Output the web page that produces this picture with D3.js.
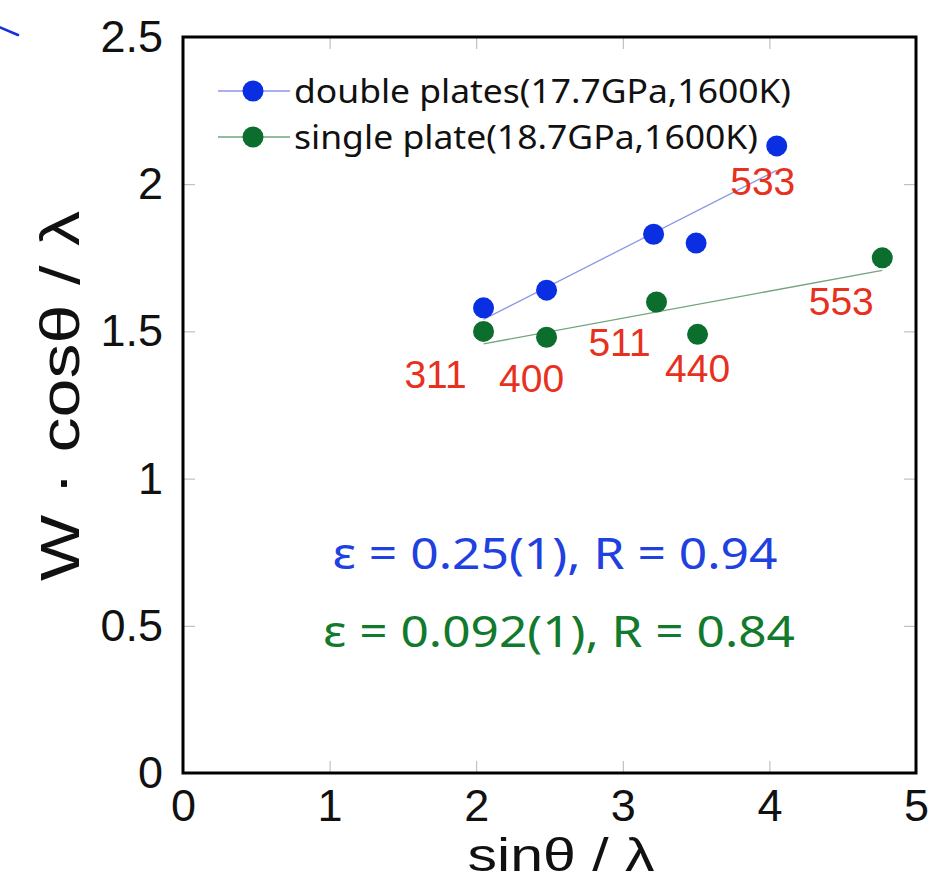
<!DOCTYPE html>
<html><head><meta charset="utf-8">
<script src="https://cdn.jsdelivr.net/npm/d3@7"></script>
<style>body{margin:0;background:#fff} svg{display:block}</style>
</head><body>
<svg id="chart" width="945" height="882"></svg>
<script>
// Williamson–Hall plot: x = sinθ/λ, y = W·cosθ/λ
const doubleX = [2.05, 2.48, 3.21, 3.50, 4.05];
const doubleY = [1.58, 1.64, 1.83, 1.80, 2.13];
const doubleHkl = ["311", "400", "511", "440", "533"];
const singleX = [2.05, 2.48, 3.23, 3.51, 4.77];
const singleY = [1.50, 1.48, 1.60, 1.49, 1.75];
const singleHkl = ["311", "400", "511", "440", "553"];
const seriesNames = ["double plates(17.7GPa,1600K)", "single plate(18.7GPa,1600K)"];
const fitTexts = ["ε = 0.25(1), R = 0.94", "ε = 0.092(1), R = 0.84"];
const xTicks = [0, 1, 2, 3, 4, 5];
const yTicks = [0, 0.5, 1, 1.5, 2, 2.5];

const BLUE = "#0a2fe3", GREEN = "#0b6e2c", RED = "#e8301e";
const BLUE_LINE = "#8f95e6", GREEN_LINE = "#72a47e";

const svg = d3.select("#chart");
const L = 183, R = 916, T = 37, B = 773;
const x = d3.scaleLinear().domain([0, 5]).range([L, R]);
const y = d3.scaleLinear().domain([0, 2.5]).range([B, T]);

const series = [
  { name: seriesNames[0], xs: doubleX, ys: doubleY, hkl: doubleHkl, color: BLUE, line: BLUE_LINE, text: "#2040e0" },
  { name: seriesNames[1], xs: singleX, ys: singleY, hkl: singleHkl, color: GREEN, line: GREEN_LINE, text: "#127a2c" }
];

// stray pen stroke at the upper-left edge
svg.append("line").attr("x1", -1).attr("y1", 27).attr("x2", 18).attr("y2", 35)
  .attr("stroke", "#1a30d8").attr("stroke-width", 2.6).attr("stroke-linecap", "round");

const tickFont = "'Liberation Sans', Arial, sans-serif";

// inward ticks on all four sides
function styleAxis(g) {
  g.select(".domain").remove();
  g.selectAll(".tick line").attr("stroke", "#b4b4b4").attr("stroke-width", 1);
  g.selectAll(".tick text").attr("font-family", tickFont).attr("font-size", 45).attr("fill", "#111");
}
svg.append("g").attr("transform", `translate(0,${B})`)
  .call(d3.axisBottom(x).tickValues(xTicks).tickSize(-12).tickPadding(16).tickFormat(d => String(d)))
  .call(styleAxis);
svg.append("g").attr("transform", `translate(0,${T})`)
  .call(d3.axisTop(x).tickValues(xTicks.slice(1, -1)).tickSize(-12).tickFormat(""))
  .call(styleAxis);
svg.append("g").attr("transform", `translate(${L},0)`)
  .call(d3.axisLeft(y).tickValues(yTicks).tickSize(-12).tickPadding(20).tickFormat(d => String(d)))
  .call(styleAxis);
svg.append("g").attr("transform", `translate(${R},0)`)
  .call(d3.axisRight(y).tickValues(yTicks.slice(1, -1)).tickSize(-12).tickFormat(""))
  .call(styleAxis);

// frame
svg.append("rect").attr("x", L).attr("y", T).attr("width", R - L).attr("height", B - T)
  .attr("fill", "none").attr("stroke", "#000").attr("stroke-width", 3);

// least-squares fit lines
series.forEach(s => {
  const n = s.xs.length;
  const mx = d3.mean(s.xs), my = d3.mean(s.ys);
  let sxy = 0, sxx = 0;
  for (let i = 0; i < n; i++) { sxy += (s.xs[i] - mx) * (s.ys[i] - my); sxx += (s.xs[i] - mx) ** 2; }
  const slope = sxy / sxx, icpt = my - slope * mx;
  const [x0, x1] = d3.extent(s.xs);
  svg.append("line")
    .attr("x1", x(x0)).attr("y1", y(icpt + slope * x0))
    .attr("x2", x(x1)).attr("y2", y(icpt + slope * x1))
    .attr("stroke", s.line).attr("stroke-width", 1.3);
});

// data points
series.forEach(s => {
  svg.append("g").selectAll("circle").data(s.xs.map((v, i) => [v, s.ys[i]])).join("circle")
    .attr("cx", d => x(d[0])).attr("cy", d => y(d[1])).attr("r", 10.5).attr("fill", s.color);
});

// reflection labels (hkl), placed relative to their point
const labelSpec = [
  { s: 1, hkl: "311", dx: -48, dy: 57 },
  { s: 1, hkl: "400", dx: -15, dy: 55 },
  { s: 1, hkl: "511", dx: -37, dy: 54 },
  { s: 1, hkl: "440", dx: 0, dy: 48 },
  { s: 0, hkl: "533", dx: -14, dy: 49 },
  { s: 1, hkl: "553", dx: -41, dy: 57 }
];
labelSpec.forEach(l => {
  const s = series[l.s], i = s.hkl.indexOf(l.hkl);
  svg.append("text").attr("x", x(s.xs[i]) + l.dx).attr("y", y(s.ys[i]) + l.dy)
    .attr("text-anchor", "middle").attr("font-family", tickFont).attr("font-size", 39)
    .attr("fill", RED).text(l.hkl);
});

// legend
const legendFont = "'Noto Sans', 'Open Sans', sans-serif";
const legendW = [497, 464];
series.forEach((s, k) => {
  const ly = 91 + k * 46;
  svg.append("line").attr("x1", 218).attr("x2", 290).attr("y1", ly).attr("y2", ly)
    .attr("stroke", s.line).attr("stroke-width", 1.3);
  svg.append("circle").attr("cx", 253).attr("cy", ly).attr("r", 10.5).attr("fill", s.color);
  svg.append("text").attr("x", 294).attr("y", ly).attr("dy", "0.36em")
    .attr("font-family", legendFont).attr("font-size", 33).attr("fill", "#111")
    .attr("textLength", legendW[k]).attr("lengthAdjust", "spacingAndGlyphs").text(s.name);
});

// fit results
const fitW = [445, 472], fitCx = [555, 559], fitY = [569, 647];
fitTexts.forEach((t, k) => {
  svg.append("text").attr("x", fitCx[k]).attr("y", fitY[k]).attr("text-anchor", "middle")
    .attr("font-family", legendFont).attr("font-size", 43).attr("fill", series[k].text)
    .attr("textLength", fitW[k]).attr("lengthAdjust", "spacingAndGlyphs").text(t);
});

// axis titles
svg.append("text").attr("x", 561).attr("y", 871).attr("text-anchor", "middle")
  .attr("font-family", tickFont).attr("font-size", 47).attr("fill", "#111")
  .attr("textLength", 187).attr("lengthAdjust", "spacingAndGlyphs").text("sinθ / λ");
svg.append("text").attr("transform", "translate(79,396) rotate(-90)").attr("text-anchor", "middle")
  .attr("font-family", tickFont).attr("font-size", 55).attr("fill", "#111")
  .attr("textLength", 370).attr("lengthAdjust", "spacingAndGlyphs").text("W · cosθ / λ");
</script>
</body></html>
